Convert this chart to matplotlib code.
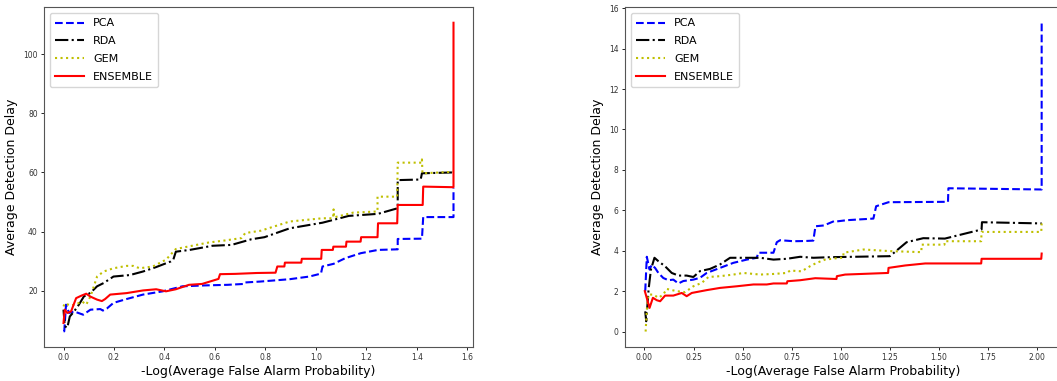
import matplotlib
matplotlib.use("Agg")
import matplotlib.pyplot as plt

labels = ["PCA", "RDA", "GEM", "ENSEMBLE"]
colors = ["b", "k", "y", "r"]
styles = ["--", "-.", ":", "-"]

# ---- Left panel data ----
L_pca_x = [0.0, 0.003, 0.01, 0.022, 0.042, 0.078, 0.107, 0.146, 0.156, 0.172, 0.198, 0.25, 0.315, 0.393, 0.471, 0.56, 0.65, 0.715, 0.72, 0.779, 0.896, 0.974, 1.02, 1.026, 1.07, 1.116, 1.178, 1.246, 1.324, 1.324, 1.42, 1.425, 1.545, 1.545]
L_pca_y = [6.2, 6.3, 15.3, 12.5, 13.0, 11.9, 13.6, 13.8, 13.3, 14.0, 15.9, 17.2, 18.7, 19.8, 21.5, 21.8, 22.0, 22.3, 22.8, 23.1, 23.9, 24.8, 25.8, 28.2, 29.1, 31.0, 32.7, 33.8, 34.0, 37.5, 37.6, 44.9, 44.9, 54.6]

L_rda_x = [0.0, 0.005, 0.015, 0.025, 0.042, 0.061, 0.081, 0.107, 0.133, 0.159, 0.198, 0.263, 0.315, 0.367, 0.425, 0.435, 0.445, 0.5, 0.59, 0.666, 0.744, 0.796, 0.896, 1.026, 1.13, 1.246, 1.324, 1.324, 1.415, 1.42, 1.545]
L_rda_y = [13.6, 8.0, 7.5, 11.3, 13.0, 15.3, 18.1, 19.3, 21.5, 22.6, 24.8, 25.3, 26.5, 28.0, 29.9, 30.5, 33.2, 33.8, 35.2, 35.5, 37.4, 38.1, 41.1, 43.0, 45.3, 46.0, 47.9, 57.4, 57.6, 59.7, 60.0]

L_gem_x = [0.0, 0.005, 0.03, 0.05, 0.075, 0.09, 0.107, 0.133, 0.159, 0.198, 0.25, 0.276, 0.302, 0.354, 0.406, 0.445, 0.497, 0.575, 0.64, 0.705, 0.72, 0.782, 0.896, 1.026, 1.068, 1.07, 1.072, 1.147, 1.244, 1.244, 1.322, 1.324, 1.418, 1.42, 1.422, 1.545]
L_gem_y = [14.7, 15.7, 15.0, 15.5, 16.3, 15.3, 18.1, 24.8, 26.5, 27.6, 28.4, 28.4, 27.6, 28.2, 30.5, 34.1, 35.0, 36.3, 37.0, 37.8, 39.5, 40.3, 43.4, 44.5, 44.5, 47.5, 44.8, 46.4, 46.8, 51.8, 51.8, 63.3, 63.3, 64.4, 59.7, 60.2]

L_ens_x = [0.0, 0.005, 0.015, 0.03, 0.05, 0.07, 0.09, 0.107, 0.133, 0.152, 0.165, 0.185, 0.25, 0.315, 0.367, 0.406, 0.445, 0.497, 0.549, 0.614, 0.62, 0.68, 0.766, 0.84, 0.847, 0.875, 0.877, 0.942, 0.944, 1.021, 1.023, 1.067, 1.069, 1.119, 1.121, 1.177, 1.179, 1.244, 1.246, 1.322, 1.324, 1.423, 1.425, 1.545, 1.545]
L_ens_y = [9.1, 13.6, 12.5, 13.0, 17.5, 18.3, 19.0, 18.0, 17.0, 16.5, 17.2, 18.7, 19.2, 20.1, 20.5, 19.8, 20.5, 22.0, 22.3, 24.0, 25.6, 25.7, 26.0, 26.1, 28.2, 28.2, 29.5, 29.5, 30.8, 30.8, 33.8, 33.8, 34.9, 34.9, 36.6, 36.6, 38.1, 38.1, 42.8, 42.8, 49.0, 49.0, 55.2, 55.0, 110.6]

# ---- Right panel data ----
R_pca_x = [0.004, 0.012, 0.026, 0.037, 0.054, 0.071, 0.096, 0.122, 0.147, 0.173, 0.198, 0.249, 0.283, 0.317, 0.385, 0.453, 0.521, 0.572, 0.58, 0.657, 0.674, 0.691, 0.759, 0.818, 0.86, 0.871, 0.914, 0.965, 0.98, 1.03, 1.166, 1.18, 1.243, 1.546, 1.548, 2.023, 2.023]
R_pca_y = [2.0, 3.7, 3.07, 3.3, 3.15, 2.9, 2.65, 2.54, 2.57, 2.38, 2.5, 2.57, 2.66, 2.9, 3.15, 3.4, 3.56, 3.65, 3.9, 3.9, 4.42, 4.52, 4.47, 4.48, 4.5, 5.21, 5.25, 5.46, 5.45, 5.51, 5.59, 6.2, 6.4, 6.42, 7.09, 7.03, 15.28]

R_rda_x = [0.004, 0.009, 0.021, 0.033, 0.051, 0.071, 0.105, 0.139, 0.173, 0.215, 0.249, 0.283, 0.334, 0.385, 0.436, 0.521, 0.589, 0.657, 0.725, 0.793, 0.861, 0.946, 1.25, 1.335, 1.42, 1.53, 1.717, 1.719, 2.023]
R_rda_y = [1.0, 0.51, 2.08, 3.07, 3.65, 3.48, 3.23, 2.9, 2.77, 2.77, 2.7, 2.99, 3.1, 3.32, 3.65, 3.65, 3.65, 3.56, 3.6, 3.7, 3.65, 3.68, 3.73, 4.42, 4.62, 4.6, 5.05, 5.41, 5.35]

R_gem_x = [0.006, 0.012, 0.021, 0.046, 0.071, 0.096, 0.113, 0.164, 0.207, 0.249, 0.292, 0.326, 0.385, 0.453, 0.504, 0.589, 0.657, 0.725, 0.742, 0.8, 0.843, 0.877, 0.92, 0.997, 1.012, 1.014, 1.116, 1.25, 1.41, 1.412, 1.528, 1.53, 1.715, 1.717, 2.021, 2.023]
R_gem_y = [0.0, 1.09, 1.83, 1.83, 1.67, 1.83, 2.11, 2.0, 1.95, 2.24, 2.41, 2.7, 2.74, 2.82, 2.9, 2.82, 2.85, 2.9, 3.02, 2.98, 3.23, 3.4, 3.56, 3.65, 3.65, 3.9, 4.06, 3.98, 3.93, 4.3, 4.3, 4.47, 4.47, 4.93, 4.93, 5.35]

R_ens_x = [0.002, 0.026, 0.043, 0.063, 0.08, 0.105, 0.147, 0.19, 0.215, 0.241, 0.317, 0.385, 0.47, 0.555, 0.623, 0.657, 0.725, 0.728, 0.793, 0.87, 0.978, 0.98, 1.022, 1.241, 1.243, 1.328, 1.43, 1.715, 1.717, 2.021, 2.023]
R_ens_y = [2.0, 1.17, 1.67, 1.55, 1.5, 1.78, 1.78, 1.91, 1.75, 1.91, 2.05, 2.16, 2.24, 2.33, 2.33, 2.38, 2.38, 2.49, 2.54, 2.64, 2.6, 2.74, 2.82, 2.9, 3.15, 3.27, 3.37, 3.37, 3.6, 3.6, 3.86]

left_series = [(L_pca_x, L_pca_y), (L_rda_x, L_rda_y), (L_gem_x, L_gem_y), (L_ens_x, L_ens_y)]
right_series = [(R_pca_x, R_pca_y), (R_rda_x, R_rda_y), (R_gem_x, R_gem_y), (R_ens_x, R_ens_y)]

fig = plt.figure(figsize=(10.57, 3.81), dpi=100)
ax1 = fig.add_axes([44 / 1057, 34 / 381, 429 / 1057, 339.7 / 381])
ax2 = fig.add_axes([625 / 1057, 34 / 381, 436.5 / 1057, 339.7 / 381])

for ax, series in ((ax1, left_series), (ax2, right_series)):
    for (xs, ys), lab, c, ls in zip(series, labels, colors, styles):
        ax.plot(xs, ys, color=c, linestyle=ls, linewidth=1.5, label=lab)
    ax.set_xlabel("-Log(Average False Alarm Probability)", fontsize=9, labelpad=2)
    ax.set_ylabel("Average Detection Delay", fontsize=9, labelpad=4)
    ax.tick_params(labelsize=5.5, length=2.5, width=0.6, pad=2, labelcolor="#333333")
    for s in ax.spines.values():
        s.set_linewidth(0.8)
        s.set_color("#555555")
    ax.legend(loc="upper left", fontsize=8, handlelength=2.6, borderpad=0.5, labelspacing=0.7)

ax1.set_xticks([0.0, 0.2, 0.4, 0.6, 0.8, 1.0, 1.2, 1.4, 1.6])
ax1.set_yticks([20, 40, 60, 80, 100])
ax2.set_xticks([0.0, 0.25, 0.5, 0.75, 1.0, 1.25, 1.5, 1.75, 2.0])
ax2.set_yticks([0, 2, 4, 6, 8, 10, 12, 14, 16])

fig.savefig("out.png", dpi=100)
